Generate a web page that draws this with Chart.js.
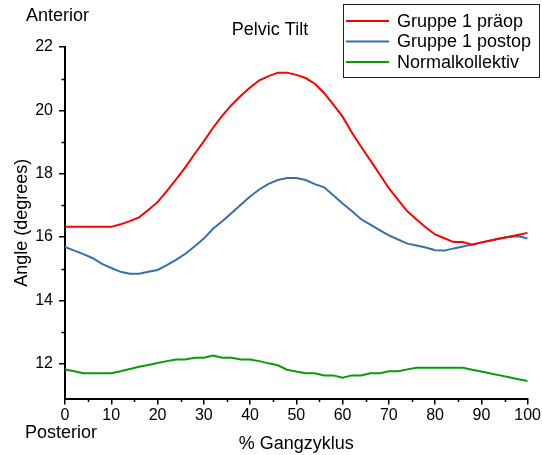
<!DOCTYPE html>
<html>
<head>
<meta charset="utf-8">
<script src="https://cdn.jsdelivr.net/npm/chart.js@4.4.1/dist/chart.umd.min.js"></script>
<style>
  html, body { margin: 0; padding: 0; background: #fff; }
  #wrap { width: 542px; height: 455px; position: relative; }
</style>
</head>
<body>
<div id="wrap"><canvas id="pelvic-tilt"></canvas></div>
<script>
// % of gait cycle, every 2 %
const gaitPct = [0, 2, 4, 6, 8, 10, 12, 14, 16, 18, 20, 22, 24, 26, 28, 30, 32, 34, 36, 38, 40,
  42, 44, 46, 48, 50, 52, 54, 56, 58, 60, 62, 64, 66, 68, 70, 72, 74, 76, 78, 80,
  82, 84, 86, 88, 90, 92, 94, 96, 98, 100];

const gruppePraeop = [16.32, 16.32, 16.32, 16.32, 16.32, 16.32, 16.40, 16.50, 16.62, 16.85, 17.10,
  17.45, 17.82, 18.20, 18.62, 19.02, 19.45, 19.83, 20.17, 20.46, 20.72,
  20.95, 21.08, 21.19, 21.19, 21.12, 21.02, 20.84, 20.55, 20.18, 19.80,
  19.30, 18.85, 18.42, 17.98, 17.54, 17.17, 16.81, 16.55, 16.30, 16.08,
  15.96, 15.84, 15.84, 15.76, 15.83, 15.89, 15.95, 16.01, 16.07, 16.13];

const gruppePostop = [15.69, 15.57, 15.46, 15.33, 15.15, 15.02, 14.90, 14.84, 14.84, 14.90, 14.96,
  15.11, 15.28, 15.47, 15.70, 15.95, 16.26, 16.50, 16.76, 17.02, 17.28,
  17.50, 17.68, 17.80, 17.86, 17.86, 17.80, 17.67, 17.57, 17.32, 17.06,
  16.82, 16.56, 16.39, 16.22, 16.05, 15.92, 15.79, 15.73, 15.67, 15.58,
  15.57, 15.64, 15.70, 15.76, 15.83, 15.89, 15.95, 16.01, 16.02, 15.95];

const normalKollektiv = [11.82, 11.76, 11.70, 11.70, 11.70, 11.70, 11.76, 11.83, 11.90, 11.96, 12.02,
  12.08, 12.13, 12.13, 12.19, 12.19, 12.26, 12.19, 12.19, 12.13, 12.13,
  12.08, 12.01, 11.95, 11.81, 11.75, 11.70, 11.70, 11.63, 11.63, 11.56,
  11.63, 11.63, 11.70, 11.70, 11.76, 11.76, 11.82, 11.87, 11.87, 11.87,
  11.87, 11.87, 11.87, 11.81, 11.75, 11.69, 11.63, 11.57, 11.51, 11.45];

const seriesLabels = ['Gruppe 1 präop', 'Gruppe 1 postop', 'Normalkollektiv'];
const seriesColors = ['#ff0000', '#3b6ea5', '#0a9a0a'];

const xTicks = [0, 10, 20, 30, 40, 50, 60, 70, 80, 90, 100];
const xMinorTicks = [5, 15, 25, 35, 45, 55, 65, 75, 85, 95];
const yTicks = [12, 14, 16, 18, 20, 22];
const yMinorTicks = [13, 15, 17, 19, 21];

const FONT = "'Liberation Sans', Arial, sans-serif";

const toPoints = vals => vals.map((v, i) => ({ x: gaitPct[i], y: v }));

// minor ticks, title, anterior/posterior notes and the framed legend
const decorations = {
  id: 'decorations',
  afterDraw(chart) {
    const ctx = chart.ctx;
    const xs = chart.scales.x;
    const ys = chart.scales.y;
    const area = chart.chartArea;
    ctx.save();
    ctx.strokeStyle = '#000';
    ctx.lineWidth = 1.5;
    ctx.beginPath();
    xMinorTicks.forEach(v => {
      const px = Math.round(xs.getPixelForValue(v)) + 0.5;
      ctx.moveTo(px, area.bottom);
      ctx.lineTo(px, area.bottom + 3.5);
    });
    yMinorTicks.forEach(v => {
      const py = Math.round(ys.getPixelForValue(v)) + 0.5;
      ctx.moveTo(area.left, py);
      ctx.lineTo(area.left - 3.5, py);
    });
    ctx.stroke();

    ctx.fillStyle = '#000';
    ctx.font = '18px ' + FONT;
    ctx.textBaseline = 'alphabetic';
    ctx.textAlign = 'center';
    ctx.fillText('Pelvic Tilt', 270, 35);
    ctx.textAlign = 'left';
    ctx.fillText('Anterior', 26, 21);
    ctx.fillText('Posterior', 25, 438);

    // legend
    ctx.strokeStyle = '#222';
    ctx.lineWidth = 1;
    ctx.strokeRect(343.5, 4.5, 196, 73);
    seriesLabels.forEach((lab, i) => {
      const y = 21 + i * 20.5;
      ctx.strokeStyle = seriesColors[i];
      ctx.lineWidth = 2;
      ctx.beginPath();
      ctx.moveTo(346, y);
      ctx.lineTo(389, y);
      ctx.stroke();
      ctx.fillStyle = '#000';
      ctx.textBaseline = 'middle';
      ctx.fillText(lab, 397, y + 1);
    });
    ctx.restore();
  }
};

new Chart(document.getElementById('pelvic-tilt'), {
  type: 'line',
  data: {
    datasets: [gruppePraeop, gruppePostop, normalKollektiv].map((vals, i) => ({
      label: seriesLabels[i],
      data: toPoints(vals),
      borderColor: seriesColors[i],
      backgroundColor: seriesColors[i],
      borderWidth: 2,
      pointRadius: 0,
      tension: 0,
      fill: false
    }))
  },
  options: {
    responsive: true,
    maintainAspectRatio: false,
    animation: false,
    layout: { padding: { top: 47, right: 14, left: 0, bottom: 0 } },
    plugins: {
      legend: { display: false },
      title: { display: false },
      tooltip: { enabled: false }
    },
    scales: {
      x: {
        type: 'linear',
        min: 0,
        max: 100,
        afterBuildTicks: s => { s.ticks = xTicks.map(v => ({ value: v })); },
        afterFit: s => { s.height = 56.5; },
        ticks: { color: '#000', font: { family: FONT, size: 16 }, padding: 1, maxRotation: 0 },
        grid: { drawOnChartArea: false, drawTicks: true, tickLength: 6, color: '#000', lineWidth: 1.5 },
        border: { display: true, color: '#000', width: 2 },
        title: {
          display: true, text: '% Gangzyklus', color: '#000',
          font: { family: FONT, size: 18 }, padding: { top: 0, bottom: 0 }
        }
      },
      y: {
        min: 10.9,
        max: 22,
        afterBuildTicks: s => { s.ticks = yTicks.map(v => ({ value: v })); },
        afterFit: s => { s.width = 65; },
        ticks: { color: '#000', font: { family: FONT, size: 16 }, padding: 6 },
        grid: { drawOnChartArea: false, drawTicks: true, tickLength: 6, color: '#000', lineWidth: 1.5 },
        border: { display: true, color: '#000', width: 2 },
        title: {
          display: true, text: 'Angle (degrees)', color: '#000',
          font: { family: FONT, size: 18 }, padding: { top: 11, bottom: 0 }
        }
      }
    }
  },
  plugins: [decorations]
});
</script>
</body>
</html>
